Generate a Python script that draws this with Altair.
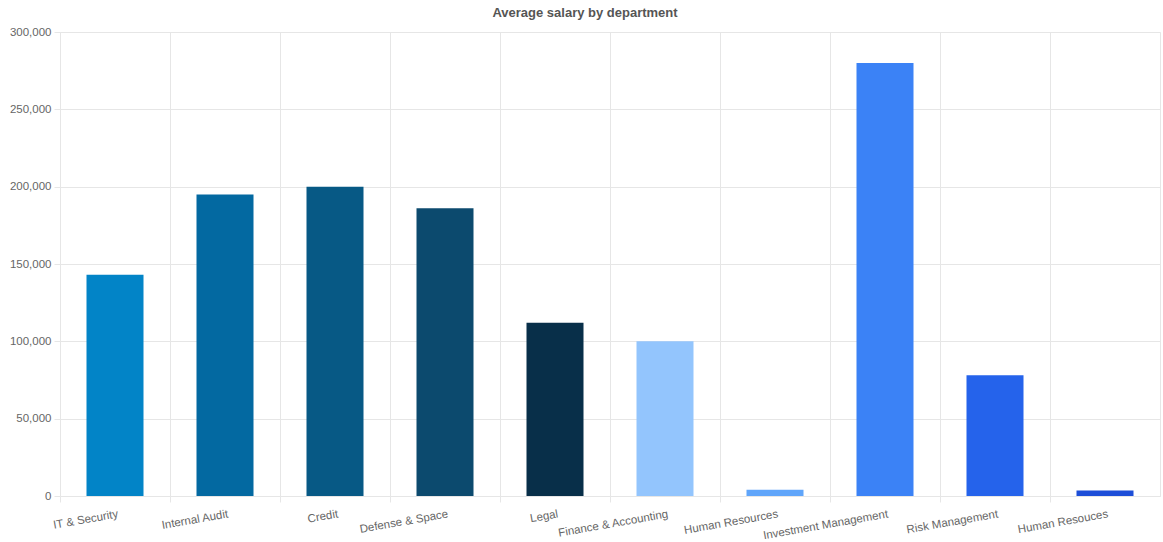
import altair as alt
import pandas as pd

departments = ["IT & Security", "Internal Audit", "Credit", "Defense & Space", "Legal",
               "Finance & Accounting", "Human Resources", "Investment Management",
               "Risk Management", "Human Resouces"]
salaries = [143000, 195000, 200000, 186000, 112000, 100000, 4000, 280000, 78000, 3500]
colors = ["#0284c7", "#0369a1", "#075985", "#0c4a6e", "#082f49",
          "#93c5fd", "#60a5fa", "#3b82f6", "#2563eb", "#1d4ed8"]
y_ticks = [0, 50000, 100000, 150000, 200000, 250000, 300000]

df = pd.DataFrame({"department": [f"{i}|{d}" for i, d in enumerate(departments)],
                   "label": departments, "salary": salaries, "color": colors})

label_expr = "split(datum.value, '|')[1]"
grid_color = "#e6e6e6"

chart = alt.Chart(df).mark_bar(width=57).encode(
    x=alt.X("department:N", sort=None, title=None,
            scale=alt.Scale(paddingInner=0, paddingOuter=0),
            axis=alt.Axis(labelExpr=label_expr, labelAngle=-10, labelAlign="right",
                          labelBaseline="top", bandPosition=0, labelOffset=2,
                          grid=True, gridColor=grid_color, tickColor=grid_color,
                          tickSize=6, domainColor=grid_color, labelColor="#666",
                          labelFontSize=11.5, labelFont="Liberation Sans",
                          labelPadding=6)),
    y=alt.Y("salary:Q", title=None,
            scale=alt.Scale(domain=[0, 300000], nice=False),
            axis=alt.Axis(values=y_ticks, format=",.0f", grid=True, gridColor=grid_color,
                          tickColor=grid_color, tickSize=6, domain=False,
                          labelColor="#666", labelFontSize=11.5,
                          labelFont="Liberation Sans", labelPadding=3)),
    color=alt.Color("color:N", scale=None),
).properties(
    width=1100, height=464,
    title=alt.TitleParams("Average salary by department", fontSize=13,
                          font="Liberation Sans", fontWeight="bold",
                          color="#555", offset=6, anchor="middle", dx=-25),
    autosize=alt.AutoSizeParams(type="none"),
    padding={"left": 60, "top": 32, "right": 3, "bottom": 46},
).configure_view(stroke=grid_color)

chart.save("out.html", embed_options={"renderer": "svg", "actions": False})
